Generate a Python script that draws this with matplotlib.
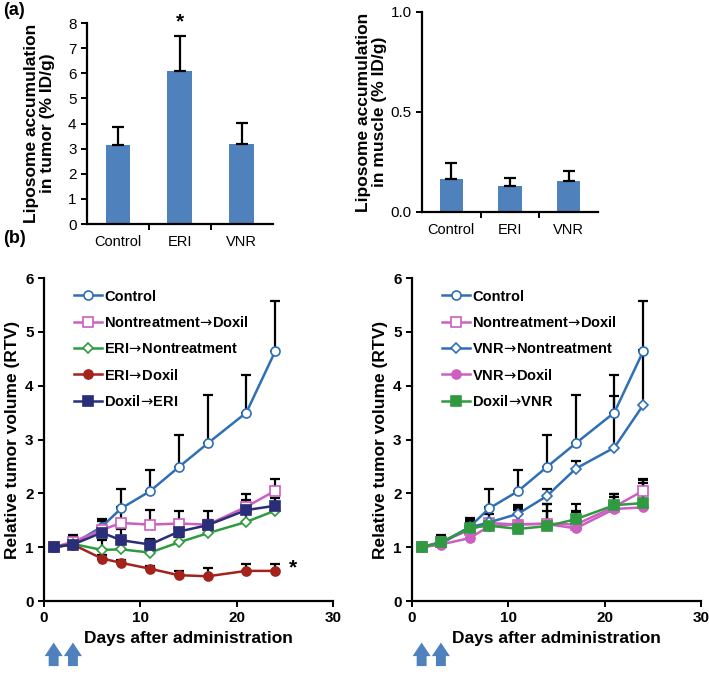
import numpy as np
import matplotlib
matplotlib.use("Agg")
import matplotlib.pyplot as plt

plt.rcParams['font.family'] = ['Liberation Sans', 'DejaVu Sans']

# ---- data ----
groups = ['Control', 'ERI', 'VNR']
tumor_mean = [3.15, 6.1, 3.2]
tumor_err = [0.72, 1.4, 0.83]
muscle_mean = [0.165, 0.13, 0.155]
muscle_err = [0.08, 0.04, 0.05]

days = [1, 3, 6, 8, 11, 14, 17, 21, 24]

control = [1.0, 1.06, 1.38, 1.72, 2.04, 2.49, 2.93, 3.50, 4.64]
control_err = [0.0, 0.16, 0.14, 0.37, 0.39, 0.59, 0.89, 0.70, 0.94]
nontx_doxil = [1.0, 1.10, 1.32, 1.45, 1.42, 1.44, 1.42, 1.75, 2.05]
nontx_doxil_err = [0.0, 0.10, 0.16, 0.30, 0.28, 0.24, 0.25, 0.24, 0.21]
eri_nontx = [1.0, 1.06, 0.95, 0.96, 0.90, 1.09, 1.26, 1.47, 1.68]
eri_nontx_err = [0.0, 0.08, 0.19, 0.12, 0.10, 0.10, 0.12, 0.40, 0.10]
eri_doxil = [1.0, 1.05, 0.79, 0.71, 0.60, 0.48, 0.46, 0.56, 0.56]
eri_doxil_err = [0.0, 0.06, 0.06, 0.05, 0.05, 0.08, 0.15, 0.12, 0.12]
doxil_eri = [1.0, 1.05, 1.27, 1.13, 1.05, 1.29, 1.41, 1.69, 1.77]
doxil_eri_err = [0.0, 0.10, 0.22, 0.20, 0.11, 0.10, 0.10, 0.14, 0.15]

vnr_nontx = [1.0, 1.08, 1.37, 1.46, 1.62, 1.95, 2.46, 2.85, 3.64]
vnr_nontx_err = [0.0, 0.08, 0.15, 0.15, 0.14, 0.14, 0.15, 0.95, 1.02]
vnr_doxil = [1.0, 1.05, 1.17, 1.39, 1.43, 1.43, 1.35, 1.71, 1.74]
vnr_doxil_err = [0.0, 0.08, 0.30, 0.10, 0.30, 0.38, 0.30, 0.22, 0.45]
doxil_vnr = [1.0, 1.09, 1.36, 1.40, 1.34, 1.39, 1.52, 1.78, 1.82]
doxil_vnr_err = [0.0, 0.09, 0.19, 0.10, 0.44, 0.41, 0.28, 0.20, 0.43]

BLUE = '#2E6FB7'
PINK = '#CC5FC0'
GREEN = '#2F9A3F'
RED = '#A3231C'
NAVY = '#2A2D78'
BAR = '#4F81BD'
ARROW = r'$\!\rightarrow\!$'

fig = plt.figure(figsize=(7.09, 6.76), dpi=100)


def style(ax):
    for s in ['top', 'right']:
        ax.spines[s].set_visible(False)
    for s in ['left', 'bottom']:
        ax.spines[s].set_linewidth(1.6)
    ax.tick_params(width=1.4, length=4, direction='out', labelsize=11)


# ---- (a) bar charts ----
def bars(rect, mean, err, ylim, yticks, fmt, ylabel, labelx, weight):
    ax = fig.add_axes(rect)
    x = np.arange(len(groups))
    ax.bar(x, mean, width=0.4, color=BAR)
    ax.errorbar(x, mean, yerr=[np.zeros(len(mean)), err], fmt='none',
                ecolor='black', elinewidth=1.6, capsize=4, capthick=1.6)
    ax.set_xlim(-0.5, 2.5)
    ax.set_ylim(*ylim)
    ax.set_yticks(yticks)
    ax.set_yticklabels([fmt % v for v in yticks])
    ax.set_xticks([0.5, 1.5])
    ax.set_xticklabels([])
    ax.set_xticks(x, minor=True)
    ax.set_xticklabels(groups, minor=True)
    ax.tick_params(axis='x', which='minor', length=0, labelsize=10.5, pad=8)
    style(ax)
    ax.set_ylabel(ylabel, fontsize=12.5, fontweight=weight, linespacing=1.1)
    ax.yaxis.set_label_coords(labelx, 0.5)
    return ax


ax1 = bars([0.1227, 0.6686, 0.262, 0.2973], tumor_mean, tumor_err, (0, 8),
           list(range(9)), '%d', 'Liposome accumulation\nin tumor (% ID/g)', -0.17, 'bold')
ax1.text(1, tumor_mean[1] + tumor_err[1] + 0.15, '*', ha='center', va='bottom',
         fontsize=15, fontweight='bold')
ax2 = bars([0.5952, 0.6864, 0.248, 0.296], muscle_mean, muscle_err, (0, 1.0),
           [0.0, 0.5, 1.0], '%.1f', 'Liposome accumulation\nin muscle (% ID/g)', -0.2, 'semibold')

fig.text(0.004, 0.997, '(a)', fontsize=13, fontweight='bold', va='top')
fig.text(0.004, 0.66, '(b)', fontsize=13, fontweight='bold', va='top')


# ---- (b) growth curves ----
def curves(rect, series):
    ax = fig.add_axes(rect)
    for label, y, err, color, marker, face in series:
        ax.errorbar(days, y, yerr=[np.zeros(len(y)), err], fmt='none',
                    ecolor='black', elinewidth=1.6, capsize=3.5, capthick=1.6,
                    zorder=1)
    for label, y, err, color, marker, face in series:
        ax.plot(days, y, color=color, lw=1.8, marker=marker,
                ms=6.5 if marker != 'D' else 5,
                mfc=face, mec=color, mew=1.2, label=label, zorder=3)
    ax.set_xlim(0, 30)
    ax.set_ylim(0, 6)
    ax.set_xticks([0, 10, 20, 30])
    ax.set_yticks(range(7))
    style(ax)
    ax.set_xlabel('Days after administration', fontsize=12.5, fontweight='bold')
    ax.set_ylabel('Relative tumor volume (RTV)', fontsize=12.5, fontweight='bold')
    for t in ax.get_xticklabels() + ax.get_yticklabels():
        t.set_fontweight('bold')
    leg = ax.legend(loc='upper left', bbox_to_anchor=(0.06, 1.005), frameon=False,
                    fontsize=10.5, labelspacing=0.8, handlelength=1.9,
                    handletextpad=0.15, markerscale=1.0)
    for t in leg.get_texts():
        t.set_fontweight('bold')
    for d in days[:2]:
        ax.annotate('', xy=(d, -0.72), xytext=(d, -1.26),
                    xycoords='data', textcoords='data',
                    arrowprops=dict(arrowstyle='simple,head_width=1.0,head_length=0.75,tail_width=0.55',
                                    mutation_scale=13, color=BAR, lw=0),
                    annotation_clip=False)
    return ax


ax3 = curves([0.0621, 0.1109, 0.4076, 0.4778], [
    ('Control', control, control_err, BLUE, 'o', 'white'),
    ('Nontreatment' + ARROW + 'Doxil', nontx_doxil, nontx_doxil_err, PINK, 's', 'white'),
    ('ERI' + ARROW + 'Nontreatment', eri_nontx, eri_nontx_err, GREEN, 'D', 'white'),
    ('ERI' + ARROW + 'Doxil', eri_doxil, eri_doxil_err, RED, 'o', RED),
    ('Doxil' + ARROW + 'ERI', doxil_eri, doxil_eri_err, NAVY, 's', NAVY),
])
ax3.text(25.8, 0.62, '*', ha='center', va='center', fontsize=15, fontweight='bold')

ax4 = curves([0.5811, 0.1109, 0.4076, 0.4778], [
    ('Control', control, control_err, BLUE, 'o', 'white'),
    ('Nontreatment' + ARROW + 'Doxil', nontx_doxil, nontx_doxil_err, PINK, 's', 'white'),
    ('VNR' + ARROW + 'Nontreatment', vnr_nontx, vnr_nontx_err, BLUE, 'D', 'white'),
    ('VNR' + ARROW + 'Doxil', vnr_doxil, vnr_doxil_err, PINK, 'o', PINK),
    ('Doxil' + ARROW + 'VNR', doxil_vnr, doxil_vnr_err, GREEN, 's', GREEN),
])

fig.savefig('out.png', dpi=100)
